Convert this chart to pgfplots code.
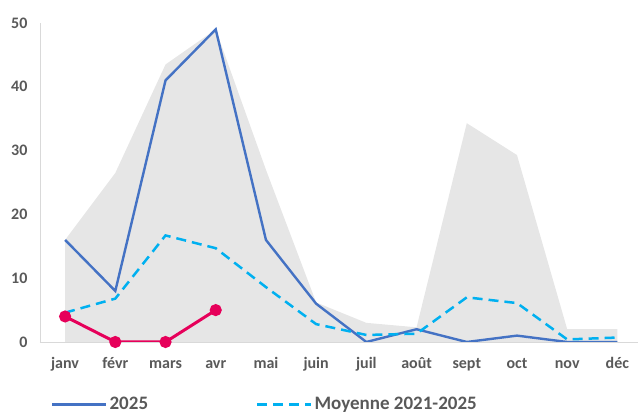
\documentclass[border=0pt]{standalone}
\usepackage{pgfplots}
\pgfplotsset{compat=1.18}
\usepackage{fontspec}
\setmainfont{Carlito}
\definecolor{txt}{HTML}{595959}
\definecolor{bl}{HTML}{4472C4}
\definecolor{cy}{HTML}{00B0F0}
\definecolor{rd}{HTML}{E6005A}
\definecolor{ar}{HTML}{E6E6E6}
\definecolor{axl}{HTML}{D9D9D9}
\begin{document}
\begin{tikzpicture}
\useasboundingbox (-40pt,-72pt) rectangle (598pt,342pt);
\begin{axis}[
  scale only axis, width=598pt, height=319pt,
  xmin=-0.5, xmax=11.41, ymin=0, ymax=50,
  axis lines=left, axis line style={draw=axl, line width=0.8pt, -},
  major tick length=0pt,
  xtick={0,...,11},
  xticklabels={janv,févr,mars,avr,mai,juin,juil,août,sept,oct,nov,déc},
  ytick={0,10,20,30,40,50},
  tick label style={font=\fontsize{16}{19}\selectfont\bfseries, text=txt},
  /pgf/number format/assume math mode=true,
  xticklabel style={anchor=base, yshift=-27pt},
  yticklabel style={xshift=-9pt},
  legend columns=2,
  legend style={draw=none, fill=none, at={(axis description cs:0.0134,-0.196)}, anchor=west,
    font=\fontsize{19}{22}\selectfont\bfseries, text=txt,
    /tikz/every even column/.append style={column sep=106pt}},
  legend image code/.code={\draw[#1] (0pt,0pt) -- (54pt,0pt);},
]
\addplot[fill=ar, draw=none, forget plot] coordinates {
(0,16) (1,26.5) (2,43.5) (3,49) (4,27) (5,6.2) (6,3) (7,2.3) (8,34.3) (9,29.3) (10,2) (11,2)} \closedcycle;
\addplot[bl, line width=2.4pt] coordinates {
(0,16) (1,8) (2,41) (3,49) (4,16) (5,6) (6,0) (7,2) (8,0) (9,1) (10,0) (11,0)};
\addlegendentry{2025}
\addplot[cy, line width=2.5pt, dash pattern=on 10pt off 6pt] coordinates {
(0,4.6) (1,6.8) (2,16.7) (3,14.7) (4,8.6) (5,2.8) (6,1.1) (7,1.3) (8,7) (9,6.1) (10,0.4) (11,0.7)};
\addlegendentry{Moyenne 2021-2025}
\addplot[rd, line width=3pt, mark=*, mark size=4.5pt, forget plot] coordinates {
(0,4) (1,0) (2,0) (3,5)};
\end{axis}
\end{tikzpicture}
\end{document}
